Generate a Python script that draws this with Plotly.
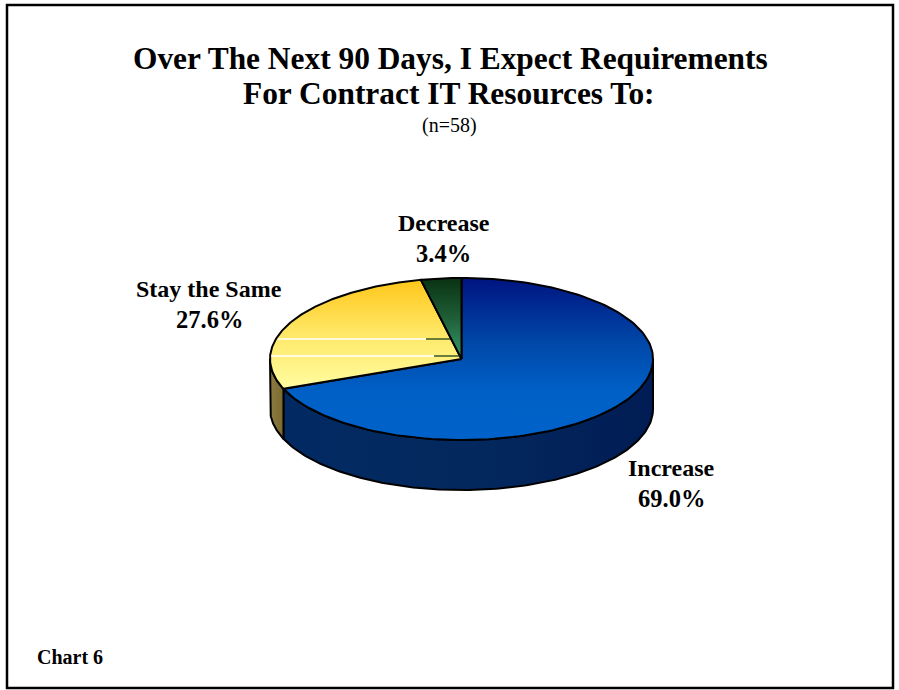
import numpy as np
import plotly.graph_objects as go

# Survey responses, in the order drawn clockwise from twelve o'clock
categories = ["Increase", "Stay the Same", "Decrease"]
shares = [69.0, 27.6, 3.4]
sample_size = 58

title_lines = ["Over The Next 90 Days, I Expect Requirements", "For Contract IT Resources To:"]
footer = "Chart 6"

# Pie geometry in page pixels
CX, CY, RX, RY, DEPTH = 461.5, 359.0, 191.5, 81.0, 50.0
# Plotly's vertical gradient runs bottom-up on this flipped axis, so stops start at the lower edge
TOP_FILLS = [
    [[0, "#0062ca"], [0.3, "#0060c6"], [0.6, "#0048a8"], [1, "#001480"]],
    [[0, "#fffca0"], [0.5, "#ffe868"], [1, "#ffc71a"]],
    [[0, "#379d6c"], [0.5, "#1f5f38"], [1, "#0a3212"]],
]
WALL_FILLS = [
    [[0, "#022a62"], [0.55, "#03285e"], [1, "#011c54"]],
    [[0, "#8c7c42"], [1, "#7a6a2e"]],
]
SERIF = "Liberation Serif"


def rim(a0, a1, n=160):
    theta = np.radians(np.linspace(a0, a1, n))
    return CX + RX * np.sin(theta), CY - RY * np.cos(theta)


def solid(x, y, fill):
    return go.Scatter(
        x=x, y=y, mode="lines", fill="toself", hoverinfo="skip",
        line=dict(color="black", width=2),
        fillgradient=dict(type="vertical", colorscale=fill),
    )


def wall(a0, a1, fill):
    x, y = rim(a0, a1)
    return go.Scatter(
        x=np.r_[x, x[::-1], x[0]], y=np.r_[y, y[::-1] + DEPTH, y[0]],
        mode="lines", fill="toself", hoverinfo="skip",
        line=dict(color="black", width=2),
        fillgradient=dict(type="horizontal", colorscale=fill),
    )


edges = np.r_[0, np.cumsum(shares)] / sum(shares) * 360
fig = go.Figure()

# Side walls appear only on the near half of the disc
for i, fill in enumerate(WALL_FILLS):
    a0, a1 = max(edges[i], 90), min(edges[i + 1], 270)
    fig.add_trace(wall(a0, a1, fill))

for i, fill in enumerate(TOP_FILLS):
    x, y = rim(edges[i], edges[i + 1])
    fig.add_trace(solid(np.r_[CX, x, CX], np.r_[CY, y, CY], fill))

shapes = [
    dict(type="rect", x0=7, y0=5, x1=893, y1=688, line=dict(color="black", width=2.5)),
    # Pale banding seams across the yellow and green slices
    dict(type="line", x0=278, x1=426, y0=339, y1=339, line=dict(color="white", width=1.5)),
    dict(type="line", x0=426, x1=450, y0=339, y1=339, line=dict(color="#0a3212", width=1.2)),
    dict(type="line", x0=271, x1=434, y0=356, y1=356, line=dict(color="white", width=1.5)),
    dict(type="line", x0=434, x1=460, y0=356, y1=356, line=dict(color="#0a3212", width=1.2)),
]


def note(x, y, text, size, bold=True, xanchor="center"):
    return dict(
        x=x, y=y, text=f"<b>{text}</b>" if bold else text, showarrow=False,
        xanchor=xanchor, yanchor="middle",
        font=dict(family=SERIF, size=size, color="black"),
    )


def slice_label(i, x, y):
    return [
        note(x, y, categories[i], 24),
        note(x, y + 30, f"{shares[i]:.1f}%", 24.5),
    ]


annotations = [
    note(450.5, 58, title_lines[0], 31.4),
    note(448.5, 93, title_lines[1], 31.4),
    note(449.5, 125, f"(n={sample_size})", 20, bold=False),
    *slice_label(0, 671, 468),
    *slice_label(1, 209, 289),
    *slice_label(2, 443.5, 223),
    note(35, 657, footer, 20, xanchor="left"),
]

fig.update_layout(
    width=899, height=690, margin=dict(l=0, r=0, t=0, b=0),
    paper_bgcolor="white", plot_bgcolor="white", showlegend=False,
    xaxis=dict(range=[0, 899], visible=False, fixedrange=True),
    yaxis=dict(range=[690, 0], visible=False, fixedrange=True),
    shapes=shapes, annotations=annotations,
)
fig.write_html("out.html", config={"displayModeBar": False})
